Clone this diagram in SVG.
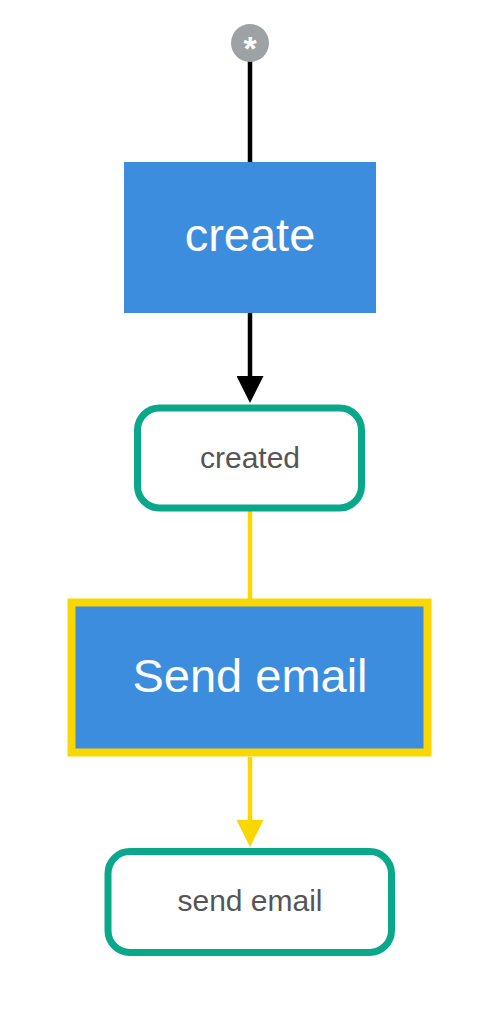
<svg xmlns="http://www.w3.org/2000/svg" width="494" height="1010" viewBox="0 0 494 1010">
<style>
.task{fill:#3c8ddd}
.tasklbl{font-family:"Liberation Sans",Arial,sans-serif;font-size:47px;fill:#ffffff;text-anchor:middle}
.state{fill:#ffffff;stroke:#0aa88a;stroke-width:7}
.statelbl{font-family:"Liberation Sans",Arial,sans-serif;font-size:30px;fill:#555555;text-anchor:middle}
.blk{stroke:#000000;stroke-width:4.5;fill:none}
.yel{stroke:#fad700;stroke-width:4.5;fill:none}
</style>
<defs>
<marker id="ab" viewBox="0 0 27 27" refX="1" refY="13.5" markerWidth="27" markerHeight="27" markerUnits="userSpaceOnUse" orient="auto">
<path d="M0,0 L27,13.5 L0,27 Z" fill="#000000"/>
</marker>
<marker id="ay" viewBox="0 0 27 27" refX="1" refY="13.5" markerWidth="27" markerHeight="27" markerUnits="userSpaceOnUse" orient="auto">
<path d="M0,0 L27,13.5 L0,27 Z" fill="#fad700"/>
</marker>
</defs>
<g id="connectors">
<line class="blk" x1="250" y1="60" x2="250" y2="162"/>
<line class="blk" x1="250" y1="313" x2="250" y2="377" marker-end="url(#ab)"/>
<line class="yel" x1="250" y1="511" x2="250" y2="599"/>
<line class="yel" x1="250" y1="757" x2="250" y2="821" marker-end="url(#ay)"/>
</g>
<g id="start">
<circle cx="250" cy="43" r="19" fill="#9ea2a5"/>
<text x="250" y="60" font-family="Liberation Sans,Arial,sans-serif" font-size="34" font-weight="bold" fill="#ffffff" text-anchor="middle">*</text>
</g>
<g id="create">
<rect class="task" x="124" y="162" width="252" height="151"/>
<text class="tasklbl" x="250" y="251">create</text>
</g>
<g id="created">
<rect class="state" x="137.5" y="408" width="224" height="100" rx="22"/>
<text class="statelbl" x="250" y="468">created</text>
</g>
<g id="send-email-task">
<rect class="task" x="71.5" y="602.5" width="356" height="150" stroke="#fad700" stroke-width="8"/>
<text class="tasklbl" x="250" y="692">Send email</text>
</g>
<g id="send-email-state">
<rect class="state" x="108" y="851.5" width="283.5" height="101" rx="22"/>
<text class="statelbl" x="250" y="911">send email</text>
</g>
</svg>
